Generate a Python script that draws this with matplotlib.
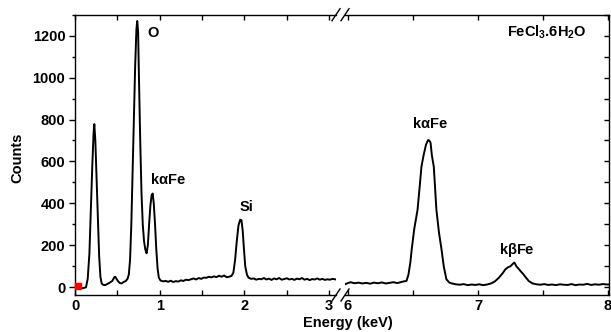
import matplotlib.pyplot as plt
from matplotlib.ticker import MultipleLocator

plt.rcParams['font.family'] = ['Liberation Sans', 'DejaVu Sans']
plt.rcParams['font.weight'] = 'bold'
plt.rcParams['mathtext.fontset'] = 'custom'
plt.rcParams['mathtext.rm'] = 'Liberation Sans:bold'
plt.rcParams['mathtext.default'] = 'rm'

# EDS spectrum, low energy part (keV, counts)
energy_low = [0.00, 0.05, 0.10, 0.13, 0.15, 0.17, 0.19, 0.205, 0.22, 0.228, 0.24, 0.255,
              0.27, 0.285, 0.30, 0.315, 0.33, 0.355, 0.38, 0.41, 0.44, 0.465, 0.475, 0.49,
              0.51, 0.53, 0.55, 0.57, 0.60, 0.62, 0.635, 0.65, 0.665, 0.68, 0.695, 0.71,
              0.725, 0.735, 0.745, 0.755, 0.77, 0.785, 0.80, 0.815, 0.83, 0.845, 0.86, 0.875,
              0.89, 0.905, 0.917, 0.93, 0.945, 0.96, 0.975, 0.99, 1.01,
              1.04, 1.07, 1.10, 1.13, 1.16, 1.19, 1.22, 1.25, 1.28, 1.31, 1.34, 1.37, 1.40,
              1.43, 1.46, 1.49, 1.52, 1.55, 1.58, 1.61, 1.64, 1.67, 1.70, 1.73, 1.76, 1.79,
              1.82, 1.85, 1.87, 1.89, 1.91, 1.93, 1.95, 1.965, 1.98, 1.995, 2.01, 2.03, 2.05,
              2.08, 2.11, 2.14, 2.17, 2.20, 2.23, 2.26, 2.29, 2.32, 2.35, 2.38, 2.41, 2.44,
              2.47, 2.50, 2.53, 2.56, 2.59, 2.62, 2.65, 2.68, 2.71, 2.74, 2.77, 2.80, 2.83,
              2.86, 2.89, 2.92, 2.95, 2.98, 3.01, 3.04, 3.08]
counts_low = [-5, -6, -4, 0, 40, 160, 400, 590, 740, 778, 700, 520,
              330, 150, 50, 18, 12, 10, 15, 22, 30, 48, 50, 40,
              28, 20, 18, 24, 30, 40, 60, 130, 300, 550, 800, 1050,
              1230, 1270, 1220, 1000, 700, 450, 300, 220, 180, 162, 200, 300,
              390, 440, 447, 400, 300, 180, 90, 45, 32,
              28, 30, 26, 31, 25, 29, 27, 33, 30, 36, 34, 38, 42,
              37, 44, 40, 46, 45, 50, 47, 52, 48, 55, 50, 56, 48,
              50, 55, 70, 130, 220, 295, 322, 320, 270, 180, 100, 60, 45,
              40, 42, 36, 40, 38, 44, 37, 41, 35, 42, 38, 44, 36,
              39, 43, 37, 40, 35, 41, 38, 44, 36, 40, 34, 39, 37,
              42, 36, 40, 35, 38, 36, 40, 37]

# high energy part (Fe K lines)
energy_high = [5.98, 6.00, 6.02, 6.05, 6.08, 6.11, 6.14, 6.17, 6.20, 6.23, 6.26, 6.29,
               6.32, 6.35, 6.38, 6.41, 6.43, 6.45, 6.465, 6.48, 6.49, 6.51, 6.535, 6.55,
               6.565, 6.58, 6.60, 6.616, 6.625, 6.635, 6.645, 6.66, 6.68, 6.70, 6.72, 6.737,
               6.757, 6.78, 6.80, 6.83, 6.86, 6.89, 6.92, 6.95, 6.98, 7.01, 7.04, 7.07,
               7.10, 7.13, 7.16, 7.19, 7.21, 7.23, 7.25, 7.265, 7.28, 7.295, 7.31, 7.33,
               7.345, 7.37, 7.39, 7.42, 7.45, 7.48, 7.51, 7.54, 7.57, 7.60, 7.63, 7.66,
               7.69, 7.72, 7.75, 7.78, 7.81, 7.84, 7.87, 7.90, 7.93, 7.96, 8.00]
counts_high = [15, 20, 24, 19, 22, 18, 21, 17, 22, 19, 23, 18,
               21, 24, 20, 25, 28, 30, 60, 120, 180, 280, 369, 470,
               575, 625, 680, 702, 700, 690, 630, 575, 370, 260, 178, 98,
               38, 22, 18, 14, 12, 15, 10, 13, 11, 14, 10, 13,
               18, 28, 45, 67, 85, 95, 100, 110, 118, 100, 90, 75,
               65, 45, 30, 18, 14, 12, 15, 11, 13, 10, 14, 12,
               11, 15, 10, 13, 12, 16, 11, 14, 12, 15, 13]

# peak labels (x keV, y counts)
low_labels = ['O', r'k$\alpha$Fe', 'Si']
low_label_x = [0.92, 1.10, 2.02]
low_label_y = [1213, 512, 383]
high_labels = [r'k$\alpha$Fe', r'k$\beta$Fe']
high_label_x = [6.63, 7.30]
high_label_y = [783, 178]

W, H = 611, 332
fig = plt.figure(figsize=(W / 100, H / 100), dpi=100)
bottom = 37 / H
height = (317.3 - 37) / H
ax1 = fig.add_axes([75 / W, bottom, (336 - 75) / W, height])
ax2 = fig.add_axes([345 / W, bottom, (608.5 - 345) / W, height])

fs = 10.5
for ax in (ax1, ax2):
    ax.set_ylim(-37, 1300)
    ax.yaxis.set_major_locator(MultipleLocator(200))
    ax.yaxis.set_minor_locator(MultipleLocator(100))
    ax.xaxis.set_major_locator(MultipleLocator(1))
    ax.xaxis.set_minor_locator(MultipleLocator(0.5))
    ax.tick_params(axis='x', which='both', direction='in', top=True, length=3.6,
                   width=1, labelsize=fs, pad=3)
    for s in ax.spines.values():
        s.set_linewidth(1.0)

ax1.plot(energy_low, counts_low, color='black', lw=1.4)
ax1.plot([0.03], [5], 's', color='red', ms=4, clip_on=False, zorder=5)
ax1.set_xlim(0, (336 - 75) / 84.7)
ax1.spines['right'].set_visible(False)
ax1.tick_params(axis='y', which='major', direction='out', length=4.3, width=1,
                labelsize=fs, pad=2.7)
ax1.tick_params(axis='y', which='minor', direction='out', length=2.5, width=1)

ax2.plot(energy_high, counts_high, color='black', lw=1.4)
ax2.set_xlim(6 - 3 / 130.3, 8 + 0.5 / 130.3)
ax2.spines['left'].set_visible(False)
ax2.tick_params(axis='y', which='both', left=False, right=True, labelleft=False,
                direction='in', length=3.6, width=1)

for t, x, y in zip(low_labels, low_label_x, low_label_y):
    ax1.text(x, y, t, ha='center', va='center', fontsize=fs, fontweight='bold')
for t, x, y in zip(high_labels, high_label_x, high_label_y):
    ax2.text(x, y, t, ha='center', va='center', fontsize=fs, fontweight='bold')
ax2.text(7.53, 1217, 'FeCl$_3$.6H$_2$O', ha='center', va='center', fontsize=fs,
         fontweight='bold')

# axis break marks
dx, dy = 4, 6
for ax, xa in ((ax1, 1.0), (ax2, 0.0)):
    bb = ax.get_position()
    ddx = dx / (bb.width * W)
    ddy = dy / (bb.height * H)
    for ya in (0.0, 1.0):
        ax.plot([xa - ddx, xa + ddx], [ya - ddy, ya + ddy], transform=ax.transAxes,
                color='black', lw=1.0, clip_on=False)

fig.text(17.5 / W, (H - 157.5) / H, 'Counts', rotation=90, ha='center', va='center',
         fontsize=10.5, fontweight='bold')
fig.text(348 / W, (H - 326.5) / H, 'Energy (keV)', ha='center', va='baseline',
         fontsize=10.5, fontweight='bold')

fig.savefig('out.png', dpi=100)
